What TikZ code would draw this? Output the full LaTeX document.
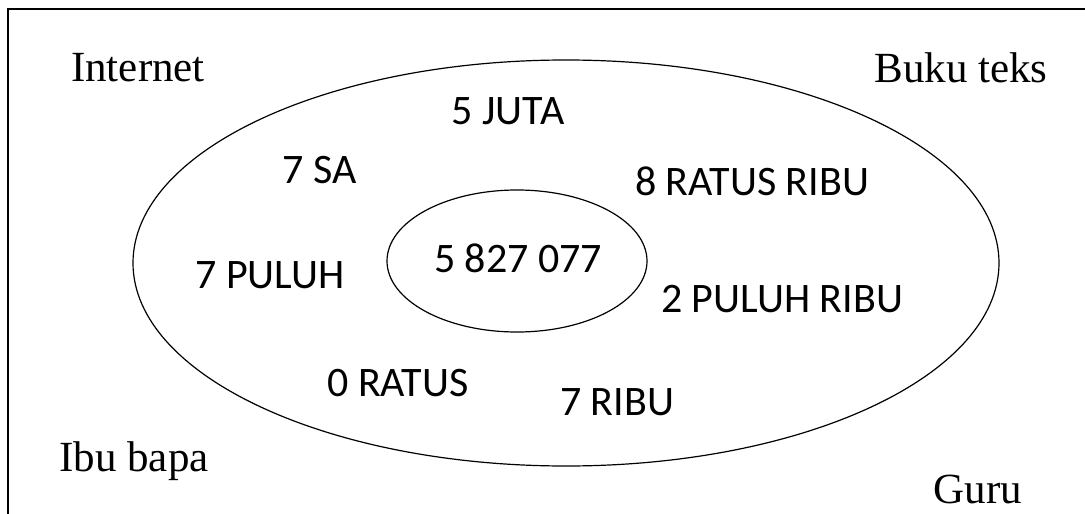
\documentclass[tikz,border=0pt]{standalone}
\usepackage{fontspec}
\setmainfont{Liberation Serif}
\newfontfamily\calib{Carlito}
\begin{document}
\begin{tikzpicture}[x=1pt,y=-1pt,
  serif/.style={font=\fontsize{43}{48}\selectfont, inner sep=0pt},
  sans/.style={font=\calib\fontsize{42}{48}\selectfont, inner sep=0pt},
  frame/.style={line width=1.8pt},
  ell/.style={line width=1.2pt}]
\useasboundingbox (0,0) rectangle (1085,514);
\draw[frame] (8,514) -- (8,9) -- (1085,9);
\draw[ell] (566,263) ellipse [x radius=433, y radius=203];
\draw[ell] (517,261) ellipse [x radius=130, y radius=71];
\node[serif] (internet) at (138,68) {Internet};
\node[serif] (buku) at (961,68) {Buku teks};
\node[serif] (ibu) at (134,461) {Ibu bapa};
\node[serif] (guru) at (978,489) {Guru};
\node[sans] (juta) at (508,111) {5 JUTA};
\node[sans] (sa) at (320,170) {7 SA};
\node[sans] (ratusribu) at (752,181) {8 RATUS RIBU};
\node[sans] (num) at (518,258) {5 827 077};
\node[sans] (puluh) at (270,275) {7 PULUH};
\node[sans] (puluhribu) at (782,299) {2 PULUH RIBU};
\node[sans] (ratus) at (398,383) {0 RATUS};
\node[sans] (ribu) at (617,402) {7 RIBU};
\end{tikzpicture}
\end{document}
